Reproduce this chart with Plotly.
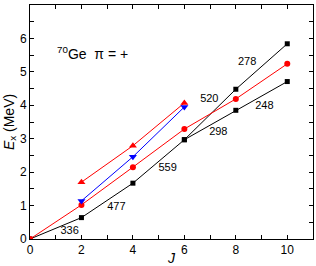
import plotly.graph_objects as go

J_main = [0, 2, 4, 6, 8, 10]
E_sq_upper = [0, 0.64, 1.67, 2.97, 4.48, 5.84]
J_branch = [6, 8, 10]
E_sq_lower = [2.97, 3.85, 4.71]
E_circ = [0, 1.02, 2.15, 3.29, 4.19, 5.24]
J_tri = [2, 4, 6]
E_tri_up = [1.70, 2.79, 4.07]
E_tri_dn = [1.14, 2.46, 3.95]

lbl_text = ["336", "477", "559", "298", "520", "278", "248"]
lbl_J = [1.54, 3.36, 5.35, 7.32, 6.97, 8.44, 9.11]
lbl_E = [0.22, 0.94, 2.12, 3.2, 4.18, 5.28, 3.97]

x_tickvals = [0, 1, 2, 3, 4, 5, 6, 7, 8, 9, 10, 11]
x_ticktext = ["0", "", "2", "", "4", "", "6", "", "8", "", "10", ""]
y_tickvals = [0, 0.5, 1, 1.5, 2, 2.5, 3, 3.5, 4, 4.5, 5, 5.5, 6, 6.5, 7]
y_ticktext = ["0", "", "1", "", "2", "", "3", "", "4", "", "5", "", "6", "", "7"]

fig = go.Figure()
fig.add_trace(go.Scatter(x=J_main, y=E_sq_upper, mode="lines+markers",
                         line=dict(color="black", width=1),
                         marker=dict(symbol="square", size=5, color="black")))
fig.add_trace(go.Scatter(x=J_branch, y=E_sq_lower, mode="lines+markers",
                         line=dict(color="black", width=1),
                         marker=dict(symbol="square", size=5, color="black")))
fig.add_trace(go.Scatter(x=J_main, y=E_circ, mode="lines+markers",
                         line=dict(color="red", width=1),
                         marker=dict(symbol="circle", size=6, color="red")))
fig.add_trace(go.Scatter(x=J_tri, y=E_tri_up, mode="lines+markers",
                         line=dict(color="red", width=1),
                         marker=dict(symbol="triangle-up", size=7, color="red")))
fig.add_trace(go.Scatter(x=J_tri, y=E_tri_dn, mode="lines+markers",
                         line=dict(color="blue", width=1),
                         marker=dict(symbol="triangle-down", size=7, color="blue")))
fig.add_trace(go.Scatter(x=lbl_J, y=lbl_E, mode="text", text=lbl_text,
                         textfont=dict(size=11, color="black", family="Liberation Sans")))

fig.add_annotation(x=0.97, y=5.56, xanchor="left", yanchor="middle", showarrow=False,
                   text="<sup>70</sup>Ge  π = +",
                   font=dict(size=14, color="black", family="Liberation Sans"))

axis_common = dict(showline=True, linecolor="black", linewidth=1, mirror="allticks",
                   ticks="inside", ticklen=4, tickwidth=1, tickcolor="black",
                   showgrid=False, zeroline=False, automargin=False,
                   tickfont=dict(size=12, color="black", family="Liberation Sans"))

fig.update_xaxes(range=[0, 11], tickmode="array", tickvals=x_tickvals, ticktext=x_ticktext,
                 title=dict(text="<i>J</i>", standoff=2,
                            font=dict(size=14, color="black", family="Liberation Sans")),
                 **axis_common)
fig.update_yaxes(range=[0, 7], tickmode="array", tickvals=y_tickvals, ticktext=y_ticktext,
                 title=dict(text="<i>E</i><sub>x</sub> (MeV)", standoff=2,
                            font=dict(size=14, color="black", family="Liberation Sans")),
                 **axis_common)

fig.update_layout(width=316, height=266, showlegend=False,
                  margin=dict(l=30, r=3, t=5, b=27),
                  plot_bgcolor="white", paper_bgcolor="white")

fig.write_html("out.html", config={"displayModeBar": False},
               post_script="document.body.style.margin='0';document.body.style.overflow='hidden';")
